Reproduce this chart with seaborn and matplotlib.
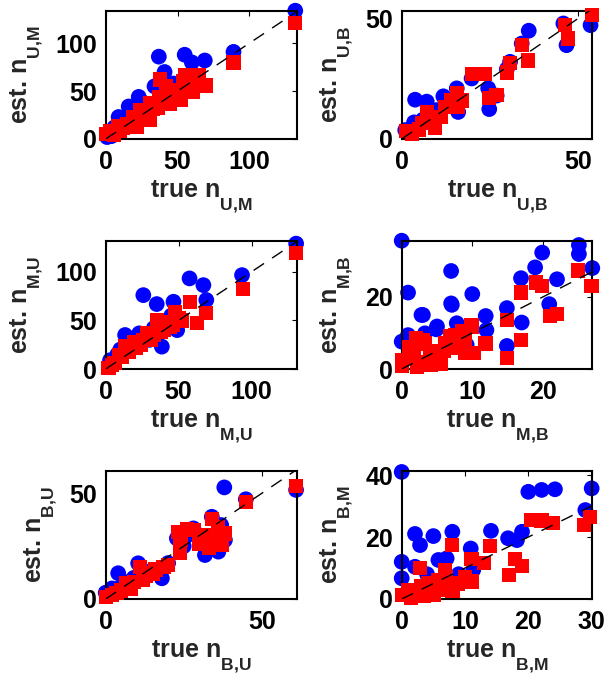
import matplotlib
matplotlib.use("Agg")
import matplotlib.pyplot as plt
import seaborn as sns

try:
    import matplotlib._mathtext as _mt
    _mt.FontConstantsBase.sub1 = 0.95
except Exception:
    pass

# ---------------- data ----------------
# Panel U,M
UM_true_blue = [132, 89, 55, 69, 37, 60, 41, 34, 23, 16, 9, 4, 1, 30, 54, 45, 28, 20, 12, 50, 40,
                6, 11, 18, 26, 38, 47]
UM_est_blue  = [134, 91, 88, 82, 86, 80, 70, 55, 44, 34, 23, 3, 2, 23, 56, 48, 33, 27, 16, 52, 45,
                12, 17, 30, 38, 40, 58]
UM_true_red  = [132, 89, 70, 61, 55, 65, 49, 42, 37, 31, 24, 19, 15, 9, 3, 0.5, 45, 52, 31, 22, 54, 38, 28, 12, 6,
                5, 10, 14, 17, 21, 26, 29, 33, 36, 40, 43, 47, 50, 57, 58, 62]
UM_est_red   = [121, 80, 56, 49, 67, 67, 51, 55, 44, 37, 30, 23, 16, 13, 8, 5, 37, 41, 20, 13, 60, 62, 27, 12, 4,
                5, 9, 13, 15, 19, 24, 28, 32, 33, 38, 42, 46, 45, 58, 52, 63]

# Panel U,B
UB_true_blue = [53.5, 45.8, 46.7, 36, 34, 30.7, 29.8, 19.8, 24.5, 24.8, 15.6, 16, 11.8, 3.8, 7.1, 3.5, 1, 26.9, 10, 6]
UB_est_blue  = [47.2, 47.9, 38.9, 44.9, 39.6, 32, 29, 25.1, 21, 12.4, 21, 11.2, 17.7, 16.3, 15.5, 6.9, 3.7, 18, 12, 8]
UB_true_red  = [53.9, 46.2, 47.2, 34, 35.8, 30.7, 29.8, 19.9, 23.6, 24.8, 26.9, 15.6, 16, 12.3, 7.1, 8.5, 5.7, 1.3, 9.4, 3, 14,
                17, 5, 11]
UB_est_red   = [51.4, 47.2, 41.7, 38.9, 32.6, 31.4, 27.6, 26.9, 26.9, 16.9, 18.2, 18.9, 13.4, 13.4, 11.3, 7.9, 6.5, 3.3, 4.8, 2, 16,
                16, 4, 9]

# Panel M,U
MU_true_blue = [130.6, 93.5, 57.5, 67, 69, 25.8, 35, 46.5, 13.3, 23, 38.5, 3, 49, 8, 30, 18, 42,
                10, 20, 33, 45]
MU_est_blue  = [129, 96.6, 93.2, 86.3, 71, 76, 66.8, 69.2, 35, 36.7, 23, 9, 40, 15, 30, 28, 45,
                20, 32, 42, 55]
MU_true_red  = [130.6, 94, 58, 69, 62.6, 47.6, 35, 44, 28.6, 19.2, 13.5, 9, 4.5, 2, 38, 24, 50, 31,
                6, 11, 16, 21, 26, 33, 40, 42, 46, 52]
MU_est_red   = [119, 82, 69, 57.9, 47, 58.9, 50.4, 43.5, 36.7, 28, 23, 14.4, 4, 1, 38, 25, 52, 30,
                6, 12, 18, 22, 30, 35, 40, 48, 45, 50]

# Panel M,B
MB_true_blue = [0, 25.1, 25.1, 19.9, 18.9, 27, 22, 16.9, 7, 0.9, 10, 7, 20.9, 14.9, 3, 11.9, 17, 7.8, 4.9, 14.9,
                0.8, 0, 9.2, 3.3, 2.8, 5, 7.1, 12, 0.9]
MB_est_blue  = [35.6, 34.4, 31.9, 32.3, 28.2, 28, 24.9, 25.2, 27.2, 21.2, 20.8, 18.2, 18, 16.9, 15, 14.7, 12.9, 12.7, 11, 6.4,
                8.3, 7.6, 6.7, 9.9, 15, 11.8, 17.8, 10.8, 9.4]
MB_true_red  = [25, 26.9, 19, 19.9, 16.9, 21, 22, 14.9, 16.9, 14.9, 11.9, 10, 9, 9, 10.2, 7.6, 6.2, 4.7, 3, 1.7,
                0, 2.2, 4.2, 1, 3.3, 9.9, 8.5, 11.8, 6.9, 5.2, 0, 3,
                2, 4, 6, 7.5, 5.5, 1]
MB_est_red   = [27.3, 23, 24, 23, 21.2, 14.7, 15.3, 13.6, 8, 3, 7.1, 11.7, 8, 4.4, 4.4, 9.4, 7.1, 2.5, 8, 5.3,
                1, 0.6, 1.2, 3, 7.1, 12.2, 10.4, 7.2, 9, 3, 2.5, 2,
                8.5, 5, 5, 6, 1.5, 6]

# Panel B,U
BU_true_blue = [61, 38, 44.9, 34, 38.2, 36.1, 31.8, 28.1, 22.8, 18, 10.4, 4, 0, 14, 7, 25, 2,
                5, 9, 15, 20, 26, 33, 37]
BU_est_blue  = [51.6, 52.8, 47.2, 38.9, 27.9, 22.4, 20.8, 33.4, 28.7, 9.8, 16.9, 12.2, 3, 13, 8, 25, 5,
                6, 10, 13, 17, 30, 28, 35]
BU_true_red  = [61, 44.9, 34, 38.2, 37.2, 31.8, 28.1, 23.3, 23.8, 18.5, 11, 12, 6.7, 3.5, 0, 15, 8, 20, 35, 30,
                2, 5, 9, 13, 16, 24, 26, 32, 36, 33]
BU_est_red   = [53.5, 46, 37.7, 31, 25.5, 27.9, 32.6, 31.8, 21.6, 15.3, 15.3, 9, 7.4, 2.7, 1, 12, 5, 16, 29, 26,
                2, 4, 8, 11, 14, 28, 33, 30, 34, 24]

# Panel B,M
BM_true_blue = [0, 30, 20, 22.1, 24.2, 29, 19, 16.8, 18.2, 14.1, 10.9, 8, 5, 2.1, 2.9, 0, 2.1, 5.8, 7.1, 11.3, 0, 9, 4]
BM_est_blue  = [41, 35.7, 34.6, 35.2, 35.4, 28.7, 21.7, 19.6, 19, 22, 16.3, 21.7, 20.3, 21, 17.4, 12, 10.4, 12.6, 13.1, 9.4, 6.7, 8, 8]
BM_true_red  = [29.7, 28.8, 20.5, 22.1, 23.9, 7.9, 13.9, 11, 13, 17.9, 19, 16.9, 11, 8.9, 2.9, 6.8, 5, 2.6, 0, 5.8, 4.2, 1, 3, 7,
                1.5, 3.5, 6, 8, 10]
BM_est_red   = [26.5, 23.9, 25.5, 25.3, 24.6, 17.4, 17.1, 12.8, 11.7, 12.8, 10.6, 7.7, 5.6, 5, 9.9, 9.4, 1.3, 2.4, 1.3, 6.1, 5, 3, 4, 7,
                0.5, 1, 3, 2.5, 7]

labels = ["U{,}M", "U{,}B", "M{,}U", "M{,}B", "B{,}U", "B{,}M"]
xlims = [133, 54, 131, 27, 61.2, 30.1]
ylims = [134, 53.2, 132, 35.6, 60.7, 41.4]
xticks = [[0, 50, 100], [0, 50], [0, 50, 100], [0, 10, 20], [0, 50], [0, 10, 20, 30]]
yticks = [[0, 50, 100], [0, 50], [0, 50, 100], [0, 20], [0, 50], [0, 20, 40]]

series = [
    (UM_true_blue, UM_est_blue, UM_true_red, UM_est_red),
    (UB_true_blue, UB_est_blue, UB_true_red, UB_est_red),
    (MU_true_blue, MU_est_blue, MU_true_red, MU_est_red),
    (MB_true_blue, MB_est_blue, MB_true_red, MB_est_red),
    (BU_true_blue, BU_est_blue, BU_true_red, BU_est_red),
    (BM_true_blue, BM_est_blue, BM_true_red, BM_est_red),
]

# ---------------- style ----------------
sns.set_theme(style="white")
plt.rcParams["font.family"] = ["Liberation Sans", "DejaVu Sans"]
plt.rcParams["font.weight"] = "bold"
plt.rcParams["mathtext.fontset"] = "custom"
plt.rcParams["mathtext.bf"] = "Liberation Sans:bold"
plt.rcParams["mathtext.rm"] = "Liberation Sans:bold"
plt.rcParams["mathtext.it"] = "Liberation Sans:bold"
plt.rcParams["mathtext.default"] = "bf"

W, H = 609, 677
fig = plt.figure(figsize=(W / 100, H / 100), dpi=100)

lefts = [105.7, 401.7]
widths = [191.0, 190.6]
tops = [10.7, 240.7, 470.7]
ax_h = 128.3

for i, (tb, eb, tr, er) in enumerate(series):
    r, c = divmod(i, 2)
    left = lefts[c] / W
    bottom = 1 - (tops[r] + ax_h) / H
    ax = fig.add_axes([left, bottom, widths[c] / W, ax_h / H])
    sns.scatterplot(x=tb, y=eb, ax=ax, color="#0000ff", marker="o", s=128,
                    edgecolor="none", linewidth=0, zorder=2)
    sns.scatterplot(x=tr, y=er, ax=ax, color="#ff0000", marker="s", s=106,
                    edgecolor="none", linewidth=0, zorder=3)
    for coll in ax.collections:
        coll.set_clip_on(False)
    m = xlims[i]
    ax.plot([0, m], [0, m], color="black", lw=1.0, ls=(0, (9, 7)), zorder=4)
    ax.set_xlim(0, xlims[i])
    ax.set_ylim(0, ylims[i])
    ax.set_xticks(xticks[i])
    ax.set_yticks(yticks[i])
    ax.tick_params(axis="both", which="both", direction="in", length=3.5, width=0.8,
                   top=True, right=True, labelsize=18, colors="black")
    ax.tick_params(axis="x", pad=8)
    ax.tick_params(axis="y", pad=6)
    for lab in ax.get_xticklabels() + ax.get_yticklabels():
        lab.set_fontweight("bold")
    for sp in ax.spines.values():
        sp.set_visible(True)
        sp.set_color("black")
        sp.set_linewidth(1.5)
    ax.set_xlabel(r"true $n_{%s}$" % labels[i], fontsize=18, fontweight="bold", labelpad=3.5)
    ax.set_ylabel(r"est. $n_{%s}$" % labels[i], fontsize=18, fontweight="bold", labelpad=8)
    ax.set_facecolor("white")

fig.savefig("out.png", dpi=100, facecolor="white")
